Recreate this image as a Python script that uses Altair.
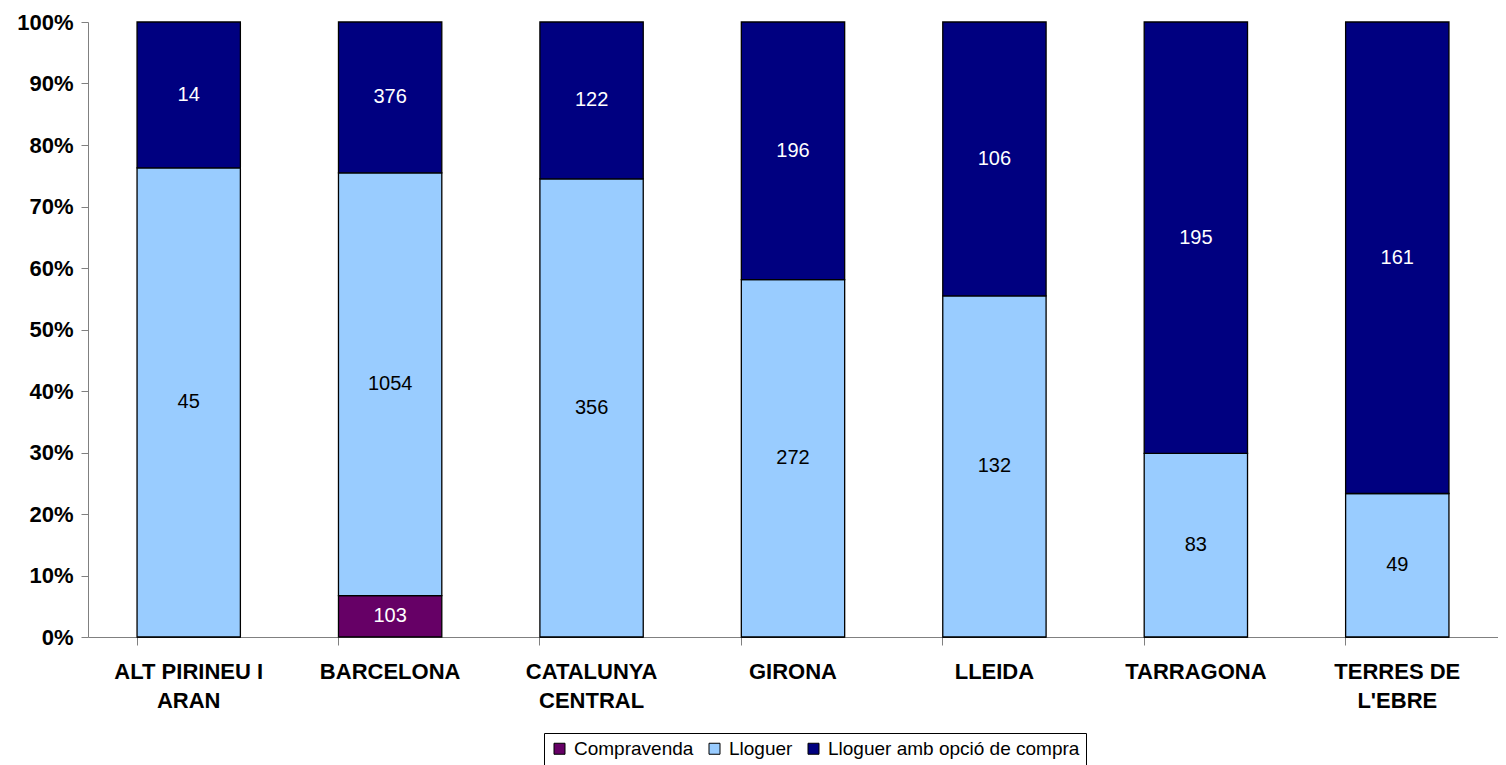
import json
import altair as alt
import pandas as pd

# ---- data ----
regions = ["ALT PIRINEU I ARAN", "BARCELONA", "CATALUNYA CENTRAL", "GIRONA",
           "LLEIDA", "TARRAGONA", "TERRES DE L'EBRE"]
region_lines = [["ALT PIRINEU I", "ARAN"], ["BARCELONA"], ["CATALUNYA", "CENTRAL"],
                ["GIRONA"], ["LLEIDA"], ["TARRAGONA"], ["TERRES DE", "L'EBRE"]]
types = ["Compravenda", "Lloguer", "Lloguer amb opció de compra"]
compravenda = [0, 103, 0, 0, 0, 0, 0]
lloguer = [45, 1054, 356, 272, 132, 83, 49]
opcio_compra = [14, 376, 122, 196, 106, 195, 161]
colors = ["#660066", "#99CCFF", "#000080"]
y_ticks = [i / 10 for i in range(11)]

rows = []
for series_idx, (t, vals) in enumerate(zip(types, [compravenda, lloguer, opcio_compra])):
    for r, v in zip(regions, vals):
        rows.append({"region": r, "type": t, "idx": series_idx, "value": v})
df = pd.DataFrame(rows)

# multi-line x labels
expr = "datum.label"
for name, lines in reversed(list(zip(regions, region_lines))):
    expr = f"datum.label == {json.dumps(name)} ? {json.dumps(lines)} : ({expr})"

FONT = "Liberation Sans"

x_axis = alt.Axis(title=None, labelAngle=0, bandPosition=0, labelExpr=expr,
                  labelFont=FONT, labelFontSize=22, labelFontWeight="bold",
                  labelColor="black", labelLineHeight=29, labelPadding=16,
                  tickSize=8, tickColor="#808080", domainColor="#808080",
                  labelBaseline="top")
y_axis = alt.Axis(title=None, values=y_ticks, format=".0%", grid=False,
                  labelFont=FONT, labelFontSize=22, labelFontWeight="bold",
                  labelColor="black", tickSize=7, labelPadding=8,
                  tickColor="#808080", domainColor="#808080")
x_scale = alt.Scale(paddingInner=0.487, paddingOuter=0.2435)
y_scale = alt.Scale(domain=[0, 1], nice=False)

base = alt.Chart(df)

bars = base.mark_bar(stroke="black", strokeWidth=1.3).encode(
    x=alt.X("region:N", sort=regions, scale=x_scale, axis=x_axis),
    y=alt.Y("value:Q", stack="normalize", scale=y_scale, axis=y_axis),
    color=alt.Color("type:N", scale=alt.Scale(domain=types, range=colors),
                    legend=alt.Legend(title=None, orient="none", legendX=456, legendY=711,
                                      direction="horizontal", columns=3,
                                      strokeColor="black", fillColor="white", padding=6,
                                      symbolType="square", symbolSize=121,
                                      symbolStrokeColor="black", symbolStrokeWidth=1,
                                      labelFont=FONT, labelFontSize=19, labelColor="black",
                                      labelLimit=0, labelOffset=5, columnPadding=11)),
    order=alt.Order("idx:Q", sort="ascending"),
)

labels = base.transform_filter("datum.value > 0").transform_joinaggregate(
    total="sum(value)", groupby=["region"]
).transform_calculate(
    frac="datum.value / datum.total"
).transform_window(
    cum="sum(frac)", sort=[alt.SortField("idx")], groupby=["region"], frame=[None, 0]
).transform_calculate(
    mid="datum.cum - datum.frac / 2"
).mark_text(font=FONT, fontSize=20, baseline="middle").encode(
    x=alt.X("region:N", sort=regions, scale=x_scale, axis=x_axis),
    y=alt.Y("mid:Q", scale=y_scale, axis=y_axis),
    text=alt.Text("value:Q"),
    color=alt.condition("datum.type == 'Lloguer'", alt.value("black"), alt.value("white")),
)

chart = alt.layer(bars, labels).properties(
    width=1410, height=615,
    autosize=alt.AutoSizeParams(type="none"),
    padding={"left": 80, "top": 14, "right": 0, "bottom": 128},
    background="white",
).configure_view(stroke=None)

chart.save("out.html", embed_options={"renderer": "svg", "actions": False})
